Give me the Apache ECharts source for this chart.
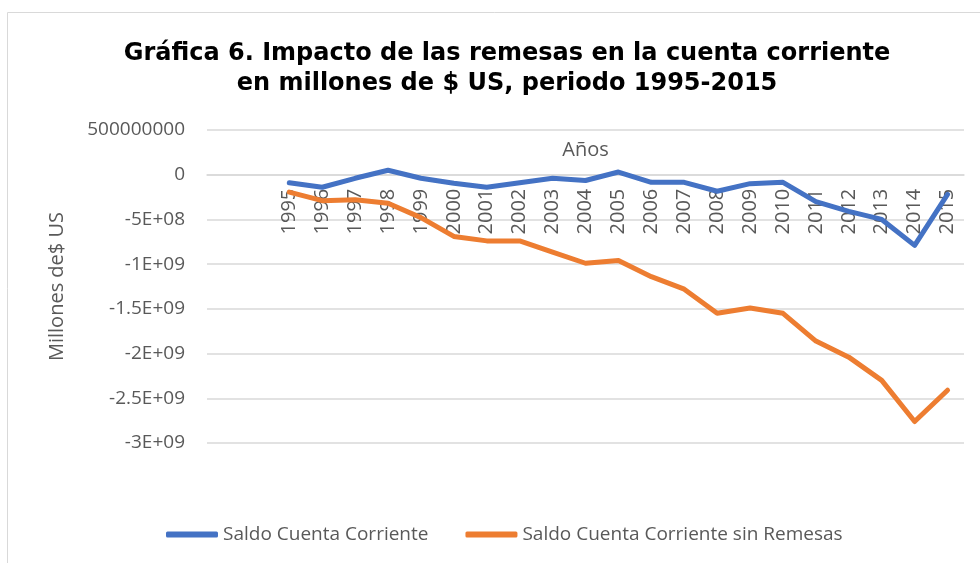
<!DOCTYPE html>
<html>
<head>
<meta charset="utf-8">
<script src="https://cdn.jsdelivr.net/npm/echarts@6/dist/echarts.min.js"></script>
<style>
  html, body { margin: 0; padding: 0; background: #fff; }
  #main { width: 980px; height: 563px; }
</style>
</head>
<body>
<div id="main"></div>
<script>
  // años y saldos (US$)
  const years = [1995, 1996, 1997, 1998, 1999, 2000, 2001, 2002, 2003, 2004, 2005,
                 2006, 2007, 2008, 2009, 2010, 2011, 2012, 2013, 2014, 2015];
  const saldoCuenta = [-0.9e8, -1.4e8, -0.4e8, 0.5e8, -0.4e8, -0.95e8, -1.4e8, -0.9e8, -0.4e8, -0.65e8, 0.3e8,
                       -0.85e8, -0.85e8, -1.85e8, -1.0e8, -0.85e8, -3.0e8, -4.1e8, -5.0e8, -7.9e8, -2.2e8];
  const saldoSinRemesas = [-1.95e8, -2.9e8, -2.8e8, -3.2e8, -4.8e8, -6.9e8, -7.4e8, -7.4e8, -8.65e8, -9.9e8, -9.6e8,
                           -11.4e8, -12.8e8, -15.5e8, -14.9e8, -15.5e8, -18.6e8, -20.4e8, -23.0e8, -27.6e8, -24.1e8];
  const seriesNames = ['Saldo Cuenta Corriente', 'Saldo Cuenta Corriente sin Remesas'];

  const grey = '#595959';
  const yMin = -3e9, yMax = 5e8;
  const gridTop = 130, gridBottom = 120, chartH = 563;

  function yLabel(v) {
    if (v === 0) return '0';
    if (v > 0) return String(v);
    // estilo Excel: -5E+08, -1.5E+09
    let s = v.toExponential().toUpperCase();
    return s.replace(/E([+-])(\d)$/, 'E$10$2');
  }

  // el eje de años cruza en 0: desplazarlo desde el borde inferior del grid
  const plotH = chartH - gridTop - gridBottom;
  const zeroOffset = -plotH * (0 - yMin) / (yMax - yMin);

  const myChart = echarts.init(document.getElementById('main'));
  const option = {
    animation: false,
    title: {
      text: 'Gráfica 6. Impacto de las remesas en la cuenta corriente\nen millones de $ US, periodo 1995-2015',
      left: 502,
      textAlign: 'center',
      top: 34,
      textStyle: {
        fontFamily: 'DejaVu Sans',
        fontWeight: 'bold',
        fontSize: 24,
        lineHeight: 30,
        color: '#000'
      }
    },
    graphic: [{
      type: 'rect',
      shape: { x: 7.5, y: 12.5, width: 1200, height: 800 },
      style: { fill: 'none', stroke: '#d9d9d9', lineWidth: 1 }
    }],
    legend: {
      data: seriesNames,
      left: 161,
      top: 520,
      icon: 'roundRect',
      itemWidth: 52,
      itemHeight: 6,
      itemGap: 37,
      textStyle: { fontFamily: 'Open Sans', fontSize: 19, color: grey }
    },
    grid: { left: 207, right: 16, top: gridTop, bottom: gridBottom },
    xAxis: {
      type: 'value',
      min: 1992.5,
      max: 2015.5,
      interval: 0.5,
      offset: zeroOffset,
      name: 'Años',
      nameLocation: 'middle',
      nameGap: -34,
      nameTextStyle: { fontFamily: 'Open Sans', fontSize: 20, color: grey },
      axisLine: { onZero: false, lineStyle: { color: '#d9d9d9', width: 1.5 } },
      axisTick: { show: false },
      splitLine: { show: false },
      axisLabel: {
        rotate: 90,
        margin: 14,
        fontFamily: 'Open Sans',
        fontSize: 20,
        color: grey,
        formatter: function (v) {
          return (Number.isInteger(v) && v >= years[0] && v <= years[years.length - 1]) ? String(v) : '';
        }
      }
    },
    yAxis: {
      type: 'value',
      min: yMin,
      max: yMax,
      interval: 5e8,
      name: 'Millones de$ US',
      nameLocation: 'middle',
      nameGap: 140,
      nameTextStyle: { fontFamily: 'Open Sans', fontSize: 20, color: grey },
      axisLine: { show: false },
      axisTick: { show: false },
      splitLine: { lineStyle: { color: '#d9d9d9', width: 1.5 } },
      axisLabel: {
        margin: 22,
        fontFamily: 'Open Sans',
        fontSize: 19,
        color: grey,
        formatter: yLabel
      }
    },
    series: [
      {
        name: seriesNames[0],
        type: 'line',
        symbol: 'none',
        z: 10,
        data: years.map((y, i) => [y, saldoCuenta[i]]),
        itemStyle: { color: '#4472C4' },
        lineStyle: { color: '#4472C4', width: 5, join: 'round', cap: 'round' }
      },
      {
        name: seriesNames[1],
        type: 'line',
        symbol: 'none',
        z: 10,
        data: years.map((y, i) => [y, saldoSinRemesas[i]]),
        itemStyle: { color: '#ED7D31' },
        lineStyle: { color: '#ED7D31', width: 5, join: 'round', cap: 'round' }
      }
    ]
  };
  myChart.setOption(option);
</script>
</body>
</html>
